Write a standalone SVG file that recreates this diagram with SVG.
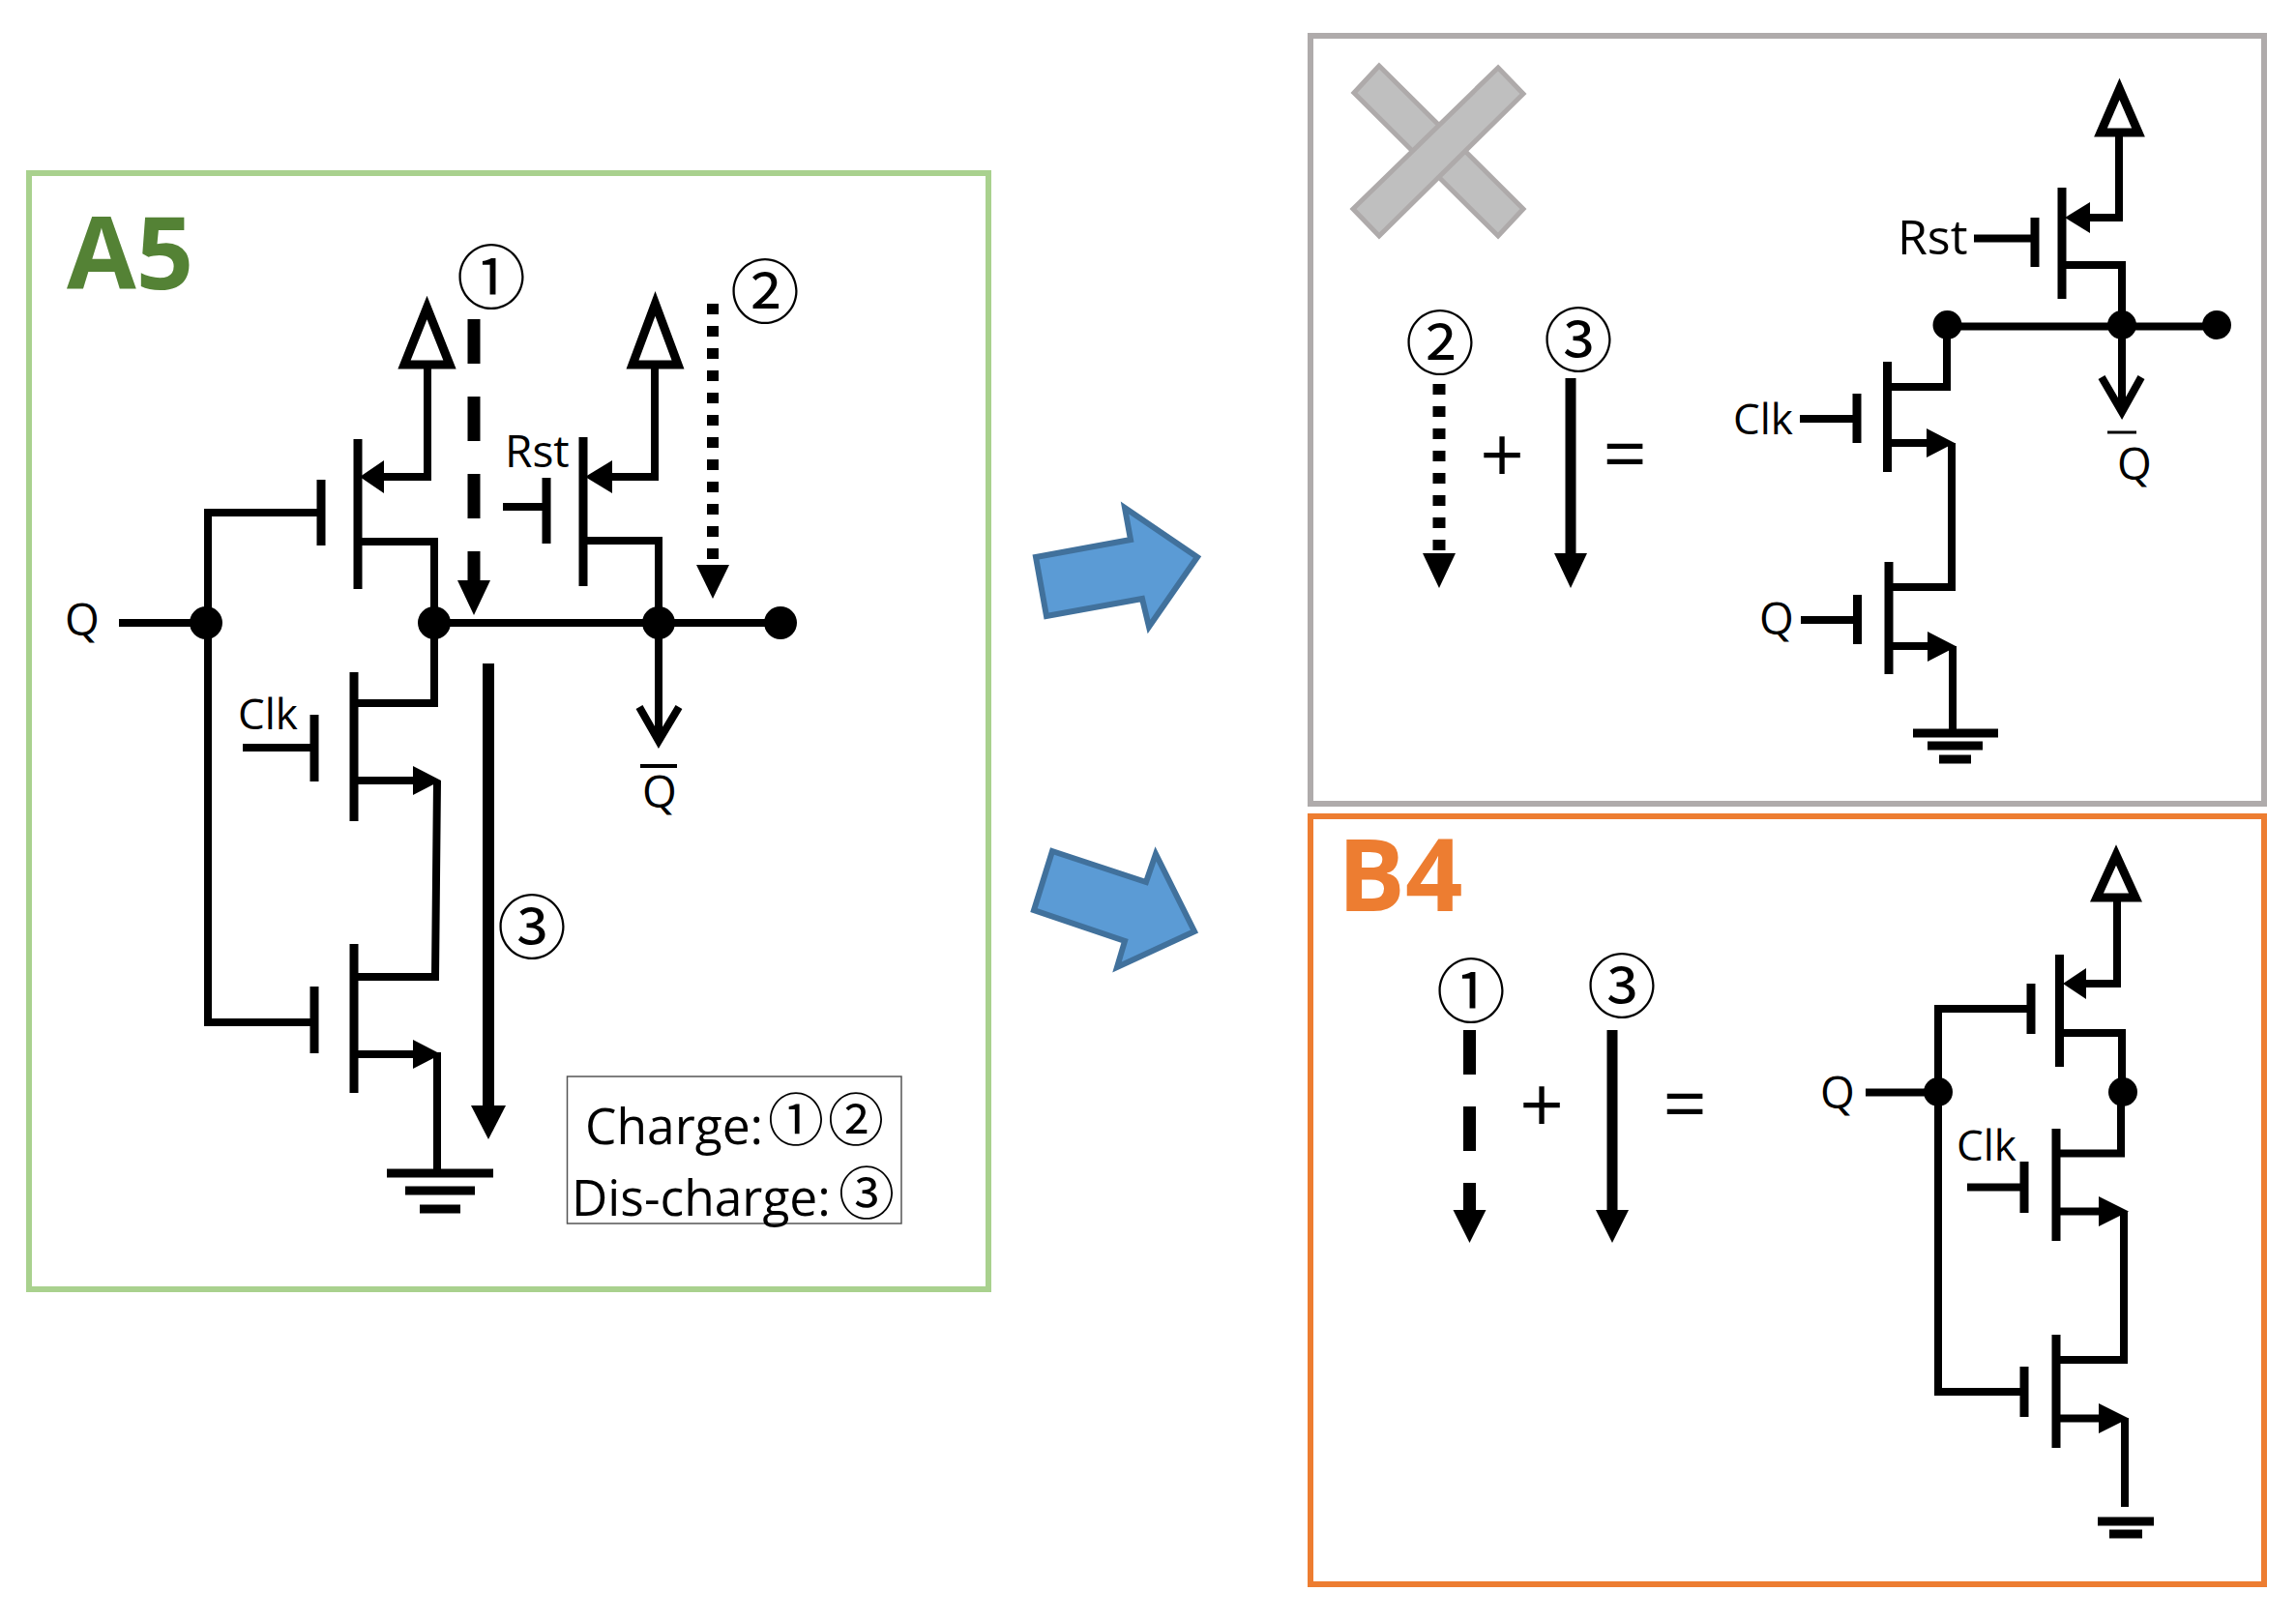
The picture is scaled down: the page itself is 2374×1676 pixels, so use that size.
<svg xmlns="http://www.w3.org/2000/svg" width="2374" height="1676" viewBox="0 0 2374 1676">
<style>
.w{fill:none;stroke:#000;stroke-width:8;stroke-linejoin:miter}
.pl{fill:none;stroke:#000;stroke-width:9}
.h{fill:#000;stroke:none}
.v{fill:#fff;stroke:#000;stroke-width:9;stroke-miterlimit:10}
.d{fill:#000;stroke:none}
.t{font-family:"Open Sans","Liberation Sans",sans-serif;fill:#000}
.c{font-family:"Noto Sans CJK JP","DejaVu Sans",sans-serif;fill:#000;text-anchor:middle}
.big{font-size:72px}
.leg{font-size:58px}
.lab{font-size:44px}
.qq{font-size:46px}
.op{font-size:80px;text-anchor:middle}
.ttl{font-family:"Open Sans","Liberation Sans",sans-serif;font-weight:700;font-size:104px}
.blue{fill:#5b9bd5;stroke:#41719c;stroke-width:6}
.fr{fill:none;stroke-width:6}
.cross{fill:#bfbfbf;stroke:#aeaaaa;stroke-width:5}
</style>
<rect width="2374" height="1676" fill="#fff"/>

<g id="frames">
<rect class="fr" stroke="#a9d18e" x="30" y="179" width="992" height="1154"/>
<rect class="fr" stroke="#afabab" x="1355" y="37" width="986" height="794"/>
<rect class="fr" stroke="#ed7d31" x="1355" y="844" width="986" height="794"/>
</g>

<g id="connectors">
<!-- A5 wires -->
<path class="w" d="M332 530H215V1057H326"/>
<path class="w" d="M123 644H213"/>
<path class="w" d="M397 493H442V376"/>
<path class="w" d="M370 560H449V644"/>
<path class="w" d="M449 644H807"/>
<path class="w" d="M633 493H677V376"/>
<path class="w" d="M603 559H681V644"/>
<path class="w" d="M520 524H565"/>
<path class="w" d="M681 644V766"/>
<path class="w" d="M661 731L681 766L702 731"/>
<path class="w" d="M366 727H449V644"/>
<path class="w" d="M251 773H325"/>
<path class="w" d="M366 807H430"/>
<path class="w" d="M452 807L450 1010H366"/>
<path class="w" d="M366 1090H430"/>
<path class="w" d="M452 1088V1213"/>
<!-- gray panel wires -->
<path class="w" d="M2041 246.500H2104"/>
<path class="w" d="M2161 225H2191V137"/>
<path class="w" d="M2132 274H2194V337"/>
<path class="w" d="M2013 337.500H2292"/>
<path class="w" d="M2194 337V426"/>
<path class="w" d="M2173 390L2194 426L2214 390"/>
<path class="w" d="M1951 400H2013V336"/>
<path class="w" d="M1861 433H1920"/>
<path class="w" d="M1951 458H1995"/>
<path class="w" d="M2018 458V607H1953"/>
<path class="w" d="M1862 641H1920"/>
<path class="w" d="M1953 668H1995"/>
<path class="w" d="M2019 668V758"/>
<!-- B4 wires -->
<path class="w" d="M2100 1043H2004V1439H2093"/>
<path class="w" d="M1929 1129.500H2004"/>
<path class="w" d="M2157 1017H2189V930"/>
<path class="w" d="M2130 1068H2194V1129"/>
<path class="w" d="M2126 1192.500H2193V1129"/>
<path class="w" d="M2034 1227.500H2093"/>
<path class="w" d="M2126 1252.500H2172"/>
<path class="w" d="M2196 1252V1406H2126"/>
<path class="w" d="M2126 1466.500H2172"/>
<path class="w" d="M2197 1466V1558"/>
</g>

<g id="A5-label"><text class="ttl" fill="#548235" x="69" y="299">A5</text></g>

<g id="A5-vdd1"><polygon class="v" points="418,377 465,377 441.500,318"/></g>
<g id="A5-vdd2"><polygon class="v" points="654,377 701,377 677.500,314"/></g>
<g id="A5-m1">
<path class="pl" d="M370 454V609M332 496V564"/><polygon class="h" points="372,493 397,476 397,510"/>
</g>
<g id="A5-m2">
<path class="pl" d="M603 452V606M565 494V562"/><polygon class="h" points="605,493 633,476 633,510"/>
</g>
<g id="A5-m3">
<path class="pl" d="M366 695V849M325 739V808"/><polygon class="h" points="456,807 427,792 427,822"/>
</g>
<g id="A5-m4">
<path class="pl" d="M366 976V1130M325 1020V1089"/><polygon class="h" points="456,1090 427,1075 427,1105"/>
</g>
<g id="A5-gnd"><path class="pl" d="M400 1213H510M419 1231H491M434 1250H476"/></g>
<g id="A5-dots">
<circle class="d" cx="213" cy="644" r="17"/><circle class="d" cx="449" cy="644" r="17"/>
<circle class="d" cx="681" cy="644" r="17"/><circle class="d" cx="807" cy="644" r="17"/>
</g>
<g id="A5-labels">
<text class="t qq" x="67" y="657">Q</text>
<text class="t qq" x="522" y="483">Rst</text>
<text class="t lab" x="246" y="754">Clk</text>
<text class="t qq" x="664" y="835">Q</text>
<path stroke="#000" stroke-width="4" d="M662 792H700"/>
</g>
<g id="A5-path1">
<path d="M490 330V600" fill="none" stroke="#000" stroke-width="13" stroke-dasharray="46 34"/>
<polygon class="h" points="473,600 507,600 490,636"/>
<text class="c big" x="508" y="313">①</text>
</g>
<g id="A5-path2">
<path d="M737 314V584" fill="none" stroke="#000" stroke-width="12" stroke-dasharray="11 12"/>
<polygon class="h" points="720,584 754,584 737,619"/>
<text class="c big" x="791" y="328">②</text>
</g>
<g id="A5-path3">
<path d="M505 686V1145" fill="none" stroke="#000" stroke-width="12"/>
<polygon class="h" points="487,1143 523,1143 505,1178"/>
<text class="c big" x="550" y="985">③</text>
</g>
<g id="A5-legend">
<rect x="586.500" y="1113" width="345.500" height="152" fill="none" stroke="#555" stroke-width="1.500"/>
<text class="t" font-size="51.500" x="605" y="1182.500">Charge:</text>
<text class="c leg" x="823" y="1179">①</text>
<text class="c leg" x="885" y="1179">②</text>
<text class="t" font-size="51.500" x="591" y="1257">Dis-charge:</text>
<text class="c leg" x="896" y="1255">③</text>
</g>

<g id="arrow-top"><polygon class="blue" points="1071,576 1169,558 1163,525 1238,576 1188,648 1181,619 1082,637"/></g>
<g id="arrow-bottom"><polygon class="blue" points="1088,880 1185,912 1195,883 1235,963 1155,1000 1163,973 1069,941"/></g>

<g id="cross-mark">
<polygon class="cross" points="1426,68 1400,96 1549,244 1575,216"/>
<polygon class="cross" points="1549,70 1575,97 1426,244 1399,216"/>
</g>
<g id="gray-path2">
<path d="M1488 397V572" fill="none" stroke="#000" stroke-width="13" stroke-dasharray="11 12"/>
<polygon class="h" points="1471,572 1505,572 1488,608"/>
<text class="c big" x="1489" y="381">②</text>
</g>
<g id="gray-path3">
<path d="M1624 391V574" fill="none" stroke="#000" stroke-width="11"/>
<polygon class="h" points="1607,572 1641,572 1624,608"/>
<text class="c big" x="1632" y="378">③</text>
</g>
<g id="gray-ops">
<text class="t op" x="1553" y="499">+</text>
<text class="t op" x="1680" y="498">=</text>
</g>
<g id="gray-vdd"><polygon class="v" points="2172,137 2211,137 2191.500,92"/></g>
<g id="gray-m1">
<path class="pl" d="M2132 194V309M2104 225V276"/><polygon class="h" points="2135,225 2161,209 2161,241"/>
</g>
<g id="gray-m2">
<path class="pl" d="M1951.500 374V488M1920 407V458"/><polygon class="h" points="2021,458 1992,443 1992,473"/>
</g>
<g id="gray-m3">
<path class="pl" d="M1953 581V697M1920.500 615V666"/><polygon class="h" points="2023,668.500 1993,653 1993,684"/>
</g>
<g id="gray-gnd"><path class="pl" d="M1978 758H2066M1993 771H2050M2005 785H2038"/></g>
<g id="gray-dots">
<circle class="d" cx="2013.500" cy="336" r="15"/><circle class="d" cx="2194" cy="336" r="15"/><circle class="d" cx="2292" cy="336" r="15"/>
</g>
<g id="gray-labels">
<text class="t" font-size="50" x="1962" y="263">Rst</text>
<text class="t lab" x="1792" y="449">Clk</text>
<text class="t qq" x="1819" y="656">Q</text>
<text class="t qq" x="2189" y="496">Q</text>
<path stroke="#000" stroke-width="3" d="M2179 447H2209"/>
</g>

<g id="B4-label"><text class="ttl" fill="#ed7d31" x="1383" y="942">B4</text></g>
<g id="B4-path1">
<path d="M1519.500 1065V1251" fill="none" stroke="#000" stroke-width="13" stroke-dasharray="46 33"/>
<polygon class="h" points="1502.500,1251 1536.500,1251 1519.500,1285"/>
<text class="c big" x="1521" y="1051">①</text>
</g>
<g id="B4-path3">
<path d="M1667 1065V1253" fill="none" stroke="#000" stroke-width="11"/>
<polygon class="h" points="1650,1251 1684,1251 1667,1285"/>
<text class="c big" x="1677" y="1046">③</text>
</g>
<g id="B4-ops">
<text class="t op" x="1594" y="1171">+</text>
<text class="t op" x="1742" y="1170">=</text>
</g>
<g id="B4-vdd"><polygon class="v" points="2168,928 2208,928 2188,884"/></g>
<g id="B4-m1">
<path class="pl" d="M2129.500 987V1103M2100 1017V1069"/><polygon class="h" points="2133,1017 2157,1001 2157,1033"/>
</g>
<g id="B4-m2">
<path class="pl" d="M2126 1167V1283M2093 1201V1254"/><polygon class="h" points="2201,1252.500 2170,1237 2170,1268"/>
</g>
<g id="B4-m3">
<path class="pl" d="M2126 1380V1497M2093 1413V1465"/><polygon class="h" points="2201,1466.500 2170,1451 2170,1482"/>
</g>
<g id="B4-gnd"><path class="pl" d="M2169 1573H2227M2181 1586H2215"/></g>
<g id="B4-dots">
<circle class="d" cx="2004" cy="1129" r="15"/><circle class="d" cx="2195" cy="1129" r="15"/>
</g>
<g id="B4-labels">
<text class="t qq" x="1882" y="1146">Q</text>
<text class="t lab" x="2023" y="1200">Clk</text>
</g>
</svg>
